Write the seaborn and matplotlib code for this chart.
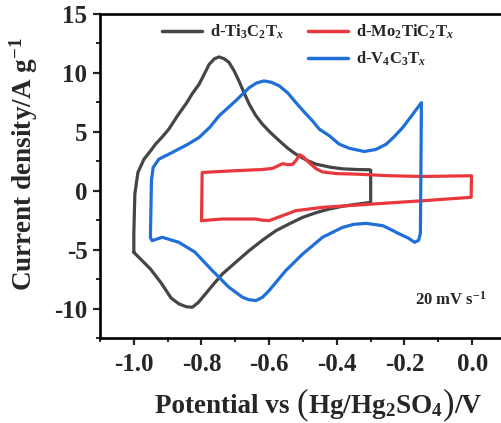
import matplotlib
matplotlib.use("Agg")
import matplotlib.pyplot as plt
import seaborn as sns
import pandas as pd
from matplotlib.lines import Line2D
from matplotlib.ticker import MultipleLocator
from matplotlib.offsetbox import TextArea, HPacker, AnchoredOffsetbox

# ---------------- data ----------------
ti_x = [-1.000, -1.000, -0.997, -0.988, -0.970, -0.950, -0.936, -0.915, -0.896, -0.870,
        -0.844, -0.827, -0.807, -0.790, -0.778, -0.762, -0.748, -0.733, -0.719, -0.704,
        -0.689, -0.674, -0.659, -0.640, -0.620, -0.595, -0.570, -0.545, -0.521, -0.490,
        -0.462, -0.420, -0.384, -0.340, -0.304, -0.300, -0.300,
        -0.330, -0.380, -0.422, -0.460, -0.501, -0.540, -0.580, -0.620, -0.659, -0.700,
        -0.738, -0.765, -0.788, -0.810, -0.827, -0.845, -0.867, -0.890, -0.920, -0.951, -1.000]
ti_y = [-5.23, -3.67, -0.28, 1.55, 2.68, 3.40, 3.95, 4.60, 5.25, 6.40,
        7.45, 8.25, 9.04, 10.00, 10.70, 11.20, 11.36, 11.20, 10.90, 10.20,
        9.30, 8.30, 7.35, 6.40, 5.65, 4.90, 4.24, 3.60, 3.10, 2.60,
        2.26, 2.00, 1.86, 1.80, 1.78, 1.75, -0.99,
        -1.10, -1.30, -1.55, -1.85, -2.26, -2.80, -3.39, -4.20, -5.08, -6.10,
        -7.06, -7.95, -8.75, -9.50, -9.89, -9.85, -9.60, -9.10, -7.80, -6.64, -5.23]

mo_x = [-0.800, -0.798, -0.700, -0.620, -0.590, -0.575, -0.560, -0.545, -0.530, -0.520,
        -0.510, -0.500, -0.490, -0.475, -0.460, -0.443, -0.400, -0.343, -0.244, -0.147,
        -0.002, -0.003, -0.146, -0.294, -0.442, -0.521, -0.561, -0.600, -0.620, -0.640,
        -0.738, -0.800]
mo_y = [-2.54, 1.55, 1.70, 1.80, 1.90, 2.10, 2.30, 2.20, 2.25, 2.60,
        3.05, 2.90, 2.60, 2.20, 1.85, 1.60, 1.45, 1.41, 1.27, 1.21,
        1.27, -0.56, -0.85, -1.13, -1.41, -1.69, -2.12, -2.54, -2.50, -2.40,
        -2.40, -2.54]

v_x = [-0.951, -0.948, -0.943, -0.926, -0.900, -0.877, -0.840, -0.807, -0.775, -0.748,
       -0.699, -0.659, -0.637, -0.615, -0.593, -0.570, -0.545, -0.521, -0.497, -0.472,
       -0.452, -0.422, -0.393, -0.363, -0.319, -0.285, -0.254, -0.230, -0.205, -0.178,
       -0.150, -0.153, -0.158, -0.170, -0.190, -0.215, -0.240, -0.264, -0.313, -0.350,
       -0.383, -0.442, -0.501, -0.551, -0.600, -0.620, -0.639, -0.660, -0.679, -0.719,
       -0.768, -0.820, -0.867, -0.916, -0.946, -0.951]
v_y = [-3.95, 0.85, 1.97, 2.68, 3.05, 3.39, 3.95, 4.52, 5.40, 6.36,
       7.63, 8.75, 9.15, 9.32, 9.20, 8.90, 8.30, 7.48, 6.70, 5.93,
       5.23, 4.66, 3.95, 3.60, 3.33, 3.50, 3.95, 4.60, 5.37, 6.40,
       7.48, -3.60, -4.20, -4.38, -4.00, -3.67, -3.30, -2.97, -2.77, -2.85,
       -3.11, -3.95, -5.37, -6.78, -8.47, -9.05, -9.32, -9.25, -9.04, -8.19,
       -6.78, -5.20, -4.38, -3.95, -4.24, -3.95]

labels = [r"d-Ti$_3$C$_2$T$_x$", r"d-Mo$_2$TiC$_2$T$_x$", r"d-V$_4$C$_3$T$_x$"]
colors = ["#454545", "#e8383d", "#1f6fd8"]
x_ticks = [-1.0, -0.8, -0.6, -0.4, -0.2, 0.0]
y_ticks = [-10, -5, 0, 5, 10, 15]

frames = []
for lab, xs, ys in zip(labels, [ti_x, mo_x, v_x], [ti_y, mo_y, v_y]):
    frames.append(pd.DataFrame({"x": xs, "y": ys, "sample": lab}))
df = pd.concat(frames, ignore_index=True)

# ---------------- style ----------------
sns.set_theme(style="ticks")
plt.rcParams["font.family"] = ["Liberation Serif", "DejaVu Serif"]
plt.rcParams["font.weight"] = "bold"
plt.rcParams["axes.labelweight"] = "bold"
plt.rcParams["axes.unicode_minus"] = False
plt.rcParams["mathtext.fontset"] = "custom"
plt.rcParams["mathtext.rm"] = "Liberation Serif:bold"
plt.rcParams["mathtext.bf"] = "Liberation Serif:bold"
plt.rcParams["mathtext.it"] = "Liberation Serif:bold:italic"
plt.rcParams["mathtext.fallback"] = "stix"

fig = plt.figure(figsize=(5.01, 4.23), dpi=100)
ax = fig.add_axes([100 / 501, 85 / 423, 406 / 501, 324 / 423])

sns.lineplot(data=df, x="x", y="y", hue="sample", palette=dict(zip(labels, colors)),
             sort=False, estimator=None, units="sample", lw=2.3, ax=ax, legend=False)
for ln in ax.get_lines():
    ln.set_solid_joinstyle("round")

ax.set_xlim(-1.1, 0.1)
ax.set_ylim(-12.5, 15)
ax.set_xticks(x_ticks)
ax.set_xticklabels([f"{v:.1f}" for v in x_ticks])
ax.set_yticks(y_ticks)
ax.xaxis.set_minor_locator(MultipleLocator(0.1))
ax.yaxis.set_minor_locator(MultipleLocator(2.5))
ax.tick_params(which="major", direction="out", length=5, width=1.6, labelsize=18, pad=4)
ax.tick_params(which="minor", direction="out", length=3, width=1.4)
ax.tick_params(axis="x", which="major", pad=6)
for s in ax.spines.values():
    s.set_linewidth(1.9)
    s.set_color("black")
for lab in ax.get_xticklabels() + ax.get_yticklabels():
    lab.set_fontweight("bold")

ax.set_xlabel("")
ax.set_ylabel(r"Current density/A g$^{-1}$", fontsize=19.5)
ax.yaxis.set_label_coords(-0.147, 0.537)

# x label with enlarged parentheses
tp = dict(size=19.5, weight="bold", family="Liberation Serif")
pp = dict(size=25, weight="normal", family="Liberation Serif")
parts = [TextArea("Potential vs ", textprops=tp), TextArea("(", textprops=pp),
         TextArea(r"Hg/Hg$_2$SO$_4$", textprops=tp), TextArea(")", textprops=pp),
         TextArea("/V", textprops=tp)]
xlab = HPacker(children=parts, align="baseline", pad=0, sep=0)
ab = AnchoredOffsetbox(loc="upper center", child=xlab, frameon=False, pad=0, borderpad=0,
                       bbox_to_anchor=(0.537, -0.155), bbox_transform=ax.transAxes)
ax.add_artist(ab)

handles = [Line2D([], [], color=colors[0], lw=2.5),
           Line2D([], [], color="none"),
           Line2D([], [], color=colors[1], lw=2.5),
           Line2D([], [], color=colors[2], lw=2.5)]
leg_labels = [labels[0], "", labels[1], labels[2]]
ax.legend(handles, leg_labels, ncol=2, loc="upper left", frameon=False,
          bbox_to_anchor=((162 - 100) / 406, 0.973), borderaxespad=0, borderpad=0,
          handlelength=2.4, handletextpad=0.45, columnspacing=1.5, labelspacing=0.5,
          prop={"family": "Liberation Serif", "weight": "bold", "size": 12})

ax.text(0.776, 0.117, r"20 mV s$^{-1}$", transform=ax.transAxes, ha="left", va="center",
        fontsize=12, fontweight="bold")

fig.savefig("out.png", dpi=100)
